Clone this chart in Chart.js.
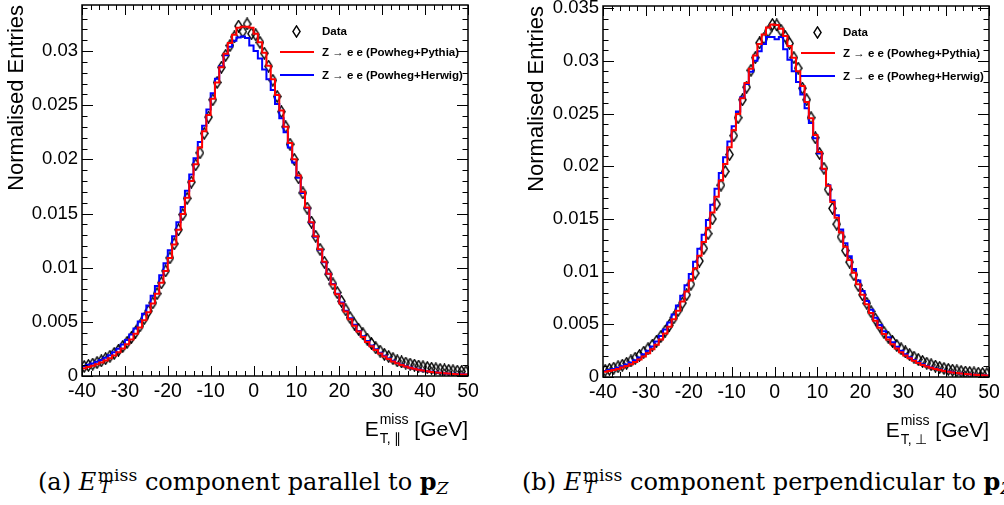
<!doctype html>
<html lang="en">

<head>
    <meta charset="UTF-8" />
    <title>MET components</title>
    <script src="https://cdn.jsdelivr.net/npm/chart.js"></script>
    <style>
        html, body { margin: 0; padding: 0; background: #fff; }
        body { width: 1004px; height: 505px; position: relative; overflow: hidden; }
        canvas { position: absolute; top: -20px; }
        #chartPar { left: 0; }
        #chartPerp { left: 520px; }
        .caption {
            position: absolute; top: 470px; white-space: nowrap;
            font-family: "DejaVu Serif", "Liberation Serif", serif; font-size: 24px; line-height: 1; color: #000;
        }
        .ms { position: relative; display: inline-block; margin-left: 0.06em; }
        .ms .up { position: relative; top: -0.5em; font-size: 0.72em; }
        .ms .dn { position: absolute; left: 0.1em; top: 0.5em; font-size: 0.72em; font-style: italic; }
        .caption sub { font-size: 0.72em; vertical-align: -0.25em; line-height: 0; }
    </style>
</head>

<body>
    <canvas id="chartPar" width="500" height="480"></canvas>
    <canvas id="chartPerp" width="484" height="480"></canvas>

    <div class="caption" style="left:38px">(a) <i>E</i><span class="ms"><span class="up">miss</span><span class="dn">T</span></span> component parallel to <b>p</b><sub><i>Z</i></sub></div>
    <div class="caption" style="left:522px">(b) <i>E</i><span class="ms"><span class="up">miss</span><span class="dn">T</span></span> component perpendicular to <b>p</b><sub><i>Z</i></sub></div>

    <script>
        // lower bin edges (GeV), 1 GeV bins
        const binLow = [-40, -39, -38, -37, -36, -35, -34, -33, -32, -31,
            -30, -29, -28, -27, -26, -25, -24, -23, -22, -21,
            -20, -19, -18, -17, -16, -15, -14, -13, -12, -11,
            -10, -9, -8, -7, -6, -5, -4, -3, -2, -1,
            0, 1, 2, 3, 4, 5, 6, 7, 8, 9,
            10, 11, 12, 13, 14, 15, 16, 17, 18, 19,
            20, 21, 22, 23, 24, 25, 26, 27, 28, 29,
            30, 31, 32, 33, 34, 35, 36, 37, 38, 39,
            40, 41, 42, 43, 44, 45, 46, 47, 48, 49];
        const xMax = 50;
        const xTicks = [-40, -30, -20, -10, 0, 10, 20, 30, 40, 50];

        // (a) parallel component
        const parData = [0.00088, 0.00098, 0.00110, 0.00124, 0.00140, 0.00160, 0.00182, 0.00208, 0.00238, 0.00272,
            0.00310, 0.00355, 0.00405, 0.00462, 0.00530, 0.00600, 0.00675, 0.00760, 0.00860, 0.00970,
            0.01090, 0.01220, 0.01350, 0.01490, 0.01640, 0.01790, 0.01950, 0.02060, 0.02240, 0.02390,
            0.02550, 0.02710, 0.02850, 0.02960, 0.03050, 0.03130, 0.03230, 0.03180, 0.03250, 0.03160,
            0.03150, 0.03080, 0.02980, 0.02860, 0.02730, 0.02580, 0.02440, 0.02300, 0.02140, 0.02000,
            0.01830, 0.01690, 0.01550, 0.01420, 0.01290, 0.01170, 0.01050, 0.00940, 0.00850, 0.00770,
            0.00690, 0.00610, 0.00540, 0.00480, 0.00430, 0.00390, 0.00340, 0.00300, 0.00260, 0.00230,
            0.00200, 0.00180, 0.00160, 0.00140, 0.00130, 0.00120, 0.00110, 0.00100, 0.00092, 0.00085,
            0.00078, 0.00072, 0.00066, 0.00061, 0.00056, 0.00052, 0.00048, 0.00045, 0.00042, 0.00039];
        const parPythia = [0.00072, 0.00082, 0.00094, 0.00108, 0.00124, 0.00143, 0.00165, 0.00190, 0.00220, 0.00254,
            0.00293, 0.00338, 0.00390, 0.00448, 0.00514, 0.00588, 0.00670, 0.00760, 0.00860, 0.00970,
            0.01090, 0.01215, 0.01350, 0.01495, 0.01645, 0.01800, 0.01955, 0.02110, 0.02260, 0.02410,
            0.02560, 0.02710, 0.02850, 0.02975, 0.03075, 0.03150, 0.03215, 0.03225, 0.03225, 0.03215,
            0.03160, 0.03080, 0.02985, 0.02865, 0.02740, 0.02595, 0.02450, 0.02300, 0.02150, 0.02000,
            0.01850, 0.01700, 0.01555, 0.01420, 0.01290, 0.01170, 0.01055, 0.00945, 0.00845, 0.00755,
            0.00670, 0.00595, 0.00525, 0.00465, 0.00410, 0.00360, 0.00315, 0.00275, 0.00240, 0.00208,
            0.00180, 0.00156, 0.00135, 0.00117, 0.00101, 0.00088, 0.00076, 0.00066, 0.00057, 0.00050,
            0.00043, 0.00038, 0.00033, 0.00029, 0.00025, 0.00022, 0.00019, 0.00017, 0.00015, 0.00013];
        const parHerwig = [0.00092, 0.00103, 0.00116, 0.00131, 0.00148, 0.00168, 0.00192, 0.00220, 0.00252, 0.00290,
            0.00333, 0.00382, 0.00438, 0.00502, 0.00574, 0.00650, 0.00740, 0.00830, 0.00930, 0.01040,
            0.01160, 0.01290, 0.01420, 0.01560, 0.01710, 0.01860, 0.02010, 0.02160, 0.02310, 0.02460,
            0.02610, 0.02745, 0.02860, 0.02960, 0.03040, 0.03095, 0.03125, 0.03135, 0.03120, 0.03050,
            0.03000, 0.02930, 0.02830, 0.02740, 0.02640, 0.02510, 0.02380, 0.02250, 0.02110, 0.01970,
            0.01830, 0.01690, 0.01550, 0.01415, 0.01285, 0.01165, 0.01050, 0.00945, 0.00850, 0.00760,
            0.00678, 0.00602, 0.00534, 0.00472, 0.00416, 0.00366, 0.00322, 0.00282, 0.00246, 0.00214,
            0.00186, 0.00162, 0.00140, 0.00121, 0.00105, 0.00091, 0.00079, 0.00068, 0.00059, 0.00051,
            0.00044, 0.00039, 0.00034, 0.00030, 0.00026, 0.00023, 0.00020, 0.00018, 0.00016, 0.00014];

        // (b) perpendicular component
        const perpData = [0.00064, 0.00073, 0.00084, 0.00097, 0.00112, 0.00130, 0.00152, 0.00178, 0.00205, 0.00235,
            0.00268, 0.00302, 0.00340, 0.00385, 0.00436, 0.00492, 0.00560, 0.00630, 0.00702, 0.00780,
            0.00880, 0.00985, 0.01100, 0.01220, 0.01360, 0.01500, 0.01640, 0.01820, 0.01950, 0.02110,
            0.02290, 0.02460, 0.02630, 0.02750, 0.02910, 0.03030, 0.03170, 0.03210, 0.03280, 0.03345,
            0.03340, 0.03290, 0.03230, 0.03165, 0.03030, 0.02930, 0.02740, 0.02630, 0.02460, 0.02270,
            0.02120, 0.01980, 0.01780, 0.01600, 0.01450, 0.01330, 0.01200, 0.01090, 0.00970, 0.00870,
            0.00780, 0.00700, 0.00620, 0.00550, 0.00485, 0.00425, 0.00378, 0.00338, 0.00300, 0.00268,
            0.00238, 0.00212, 0.00188, 0.00167, 0.00148, 0.00131, 0.00116, 0.00103, 0.00091, 0.00081,
            0.00072, 0.00065, 0.00058, 0.00052, 0.00047, 0.00043, 0.00039, 0.00036, 0.00033, 0.00030];
        const perpPythia = [0.00050, 0.00057, 0.00066, 0.00077, 0.00090, 0.00105, 0.00122, 0.00142, 0.00166, 0.00194,
            0.00226, 0.00263, 0.00306, 0.00355, 0.00412, 0.00476, 0.00548, 0.00628, 0.00716, 0.00812,
            0.00916, 0.01030, 0.01150, 0.01280, 0.01415, 0.01560, 0.01710, 0.01865, 0.02020, 0.02180,
            0.02340, 0.02495, 0.02645, 0.02790, 0.02925, 0.03050, 0.03160, 0.03250, 0.03315, 0.03345,
            0.03340, 0.03305, 0.03235, 0.03140, 0.03030, 0.02900, 0.02760, 0.02610, 0.02455, 0.02295,
            0.02135, 0.01975, 0.01815, 0.01660, 0.01510, 0.01370, 0.01235, 0.01110, 0.00990, 0.00880,
            0.00780, 0.00690, 0.00608, 0.00534, 0.00468, 0.00408, 0.00356, 0.00310, 0.00270, 0.00235,
            0.00204, 0.00177, 0.00153, 0.00133, 0.00115, 0.00100, 0.00087, 0.00076, 0.00066, 0.00057,
            0.00050, 0.00043, 0.00038, 0.00033, 0.00029, 0.00025, 0.00022, 0.00019, 0.00017, 0.00015];
        const perpHerwig = [0.00058, 0.00066, 0.00076, 0.00088, 0.00102, 0.00118, 0.00137, 0.00159, 0.00185, 0.00215,
            0.00250, 0.00290, 0.00336, 0.00389, 0.00450, 0.00518, 0.00594, 0.00678, 0.00770, 0.00870,
            0.00978, 0.01094, 0.01218, 0.01350, 0.01490, 0.01635, 0.01785, 0.01935, 0.02085, 0.02235,
            0.02380, 0.02520, 0.02655, 0.02780, 0.02895, 0.03000, 0.03090, 0.03160, 0.03225, 0.03225,
            0.03205, 0.03225, 0.03110, 0.03010, 0.02900, 0.02800, 0.02680, 0.02550, 0.02410, 0.02265,
            0.02120, 0.01970, 0.01820, 0.01675, 0.01535, 0.01400, 0.01270, 0.01145, 0.01025, 0.00915,
            0.00815, 0.00722, 0.00638, 0.00562, 0.00494, 0.00433, 0.00378, 0.00330, 0.00287, 0.00249,
            0.00216, 0.00187, 0.00162, 0.00140, 0.00121, 0.00105, 0.00091, 0.00079, 0.00068, 0.00059,
            0.00051, 0.00044, 0.00038, 0.00033, 0.00029, 0.00025, 0.00022, 0.00019, 0.00017, 0.00015];

        const legendLabels = ["Data", "Z \u2192 e e (Powheg+Pythia)", "Z \u2192 e e (Powheg+Herwig)"];
        const SANS = '"Liberation Sans", Arial, Helvetica, sans-serif';

        // open diamond marker (ROOT style 27)
        function diamondMarker() {
            const c = document.createElement("canvas");
            c.width = 9; c.height = 13;
            const g = c.getContext("2d");
            g.strokeStyle = "#000";
            g.lineWidth = 1.4;
            g.beginPath();
            g.moveTo(4.5, 0.9); g.lineTo(8.1, 6.5); g.lineTo(4.5, 12.1); g.lineTo(0.9, 6.5);
            g.closePath();
            g.stroke();
            return c;
        }
        const marker = diamondMarker();

        function histPoints(vals) {
            const pts = vals.map((v, i) => ({ x: binLow[i], y: v }));
            pts.push({ x: xMax, y: vals[vals.length - 1] });
            return pts;
        }
        function centrePoints(vals) {
            return vals.map((v, i) => ({ x: binLow[i] + 0.5, y: v }));
        }

        // frame with inward ticks on all four sides
        const rootFrame = {
            id: "rootFrame",
            afterDatasetsDraw(chart) {
                const { ctx, chartArea: a, scales: { x, y } } = chart;
                ctx.save();
                ctx.strokeStyle = "#000";
                ctx.lineWidth = 1;
                ctx.beginPath();
                for (let i = 0; x.min + i * 2 <= x.max + 1e-9; i++) {
                    const px = Math.round(x.getPixelForValue(x.min + i * 2)) + 0.5;
                    const len = i % 5 === 0 ? 10 : 5;
                    ctx.moveTo(px, a.bottom); ctx.lineTo(px, a.bottom - len);
                    ctx.moveTo(px, a.top); ctx.lineTo(px, a.top + len);
                }
                for (let i = 0; i * 0.001 <= y.max + 1e-9; i++) {
                    const py = Math.round(y.getPixelForValue(i * 0.001)) + 0.5;
                    const len = i % 5 === 0 ? 11 : 5.5;
                    ctx.moveTo(a.left, py); ctx.lineTo(a.left + len, py);
                    ctx.moveTo(a.right, py); ctx.lineTo(a.right - len, py);
                }
                ctx.stroke();
                ctx.lineWidth = 1.5;
                ctx.strokeRect(a.left, a.top, a.right - a.left, a.bottom - a.top);
                ctx.restore();
            }
        };

        const legendBox = {
            id: "legendBox",
            afterDatasetsDraw(chart) {
                const { ctx, chartArea: a } = chart;
                ctx.save();
                ctx.font = `bold 11.5px ${SANS}`;
                ctx.textBaseline = "middle";
                ctx.fillStyle = "#000";
                ctx.drawImage(marker, Math.round(a.left + 214 - marker.width / 2), Math.round(a.top + 26.5 - marker.height / 2));
                ctx.fillText(legendLabels[0], a.left + 240, a.top + 27);
                const rows = [["#ff0000", 47, legendLabels[1]], ["#0000ff", 70, legendLabels[2]]];
                rows.forEach(([col, dy, txt]) => {
                    ctx.strokeStyle = col;
                    ctx.lineWidth = 2;
                    ctx.beginPath();
                    ctx.moveTo(a.left + 198, a.top + dy);
                    ctx.lineTo(a.left + 232, a.top + dy);
                    ctx.stroke();
                    ctx.fillText(txt, a.left + 240, a.top + dy + 0.5);
                });
                ctx.restore();
            }
        };

        const xTitle = {
            id: "xTitle",
            afterDraw(chart, args, opts) {
                const { ctx, chartArea: a } = chart;
                const big = `21px ${SANS}`, small = `14px ${SANS}`;
                ctx.save();
                ctx.fillStyle = "#000";
                ctx.textBaseline = "alphabetic";
                ctx.font = big;
                const wE = ctx.measureText("E").width;
                const wUnit = ctx.measureText(" [GeV]").width;
                ctx.font = small;
                const wStack = Math.max(ctx.measureText("miss").width, ctx.measureText(opts.sub).width);
                const base = a.bottom + 60;
                const x0 = a.right - wUnit - wStack - wE - 1;
                ctx.font = big;
                ctx.fillText("E", x0, base);
                ctx.fillText(" [GeV]", a.right - wUnit, base);
                ctx.font = small;
                ctx.fillText("miss", x0 + wE + 1, base - 12);
                ctx.fillText(opts.sub, x0 + wE + 1, base + 7);
                ctx.restore();
            }
        };

        function makePanel(id, p) {
            const ctx = document.getElementById(id).getContext("2d");
            return new Chart(ctx, {
                type: "line",
                data: {
                    datasets: [
                        {
                            label: legendLabels[1], data: histPoints(p.pythia), borderColor: "#ff0000",
                            borderWidth: 2, stepped: true, pointRadius: 0, fill: false
                        },
                        {
                            label: legendLabels[2], data: histPoints(p.herwig), borderColor: "#0000ff",
                            borderWidth: 2, stepped: true, pointRadius: 0, fill: false
                        },
                        {
                            label: legendLabels[0], data: centrePoints(p.data), showLine: false,
                            pointStyle: marker, pointRadius: 4
                        }
                    ]
                },
                options: {
                    responsive: false,
                    animation: false,
                    events: [],
                    layout: { padding: { top: p.padTop, right: p.padRight, left: 0, bottom: 0 } },
                    plugins: {
                        legend: { display: false },
                        tooltip: { enabled: false },
                        xTitle: { sub: p.sub }
                    },
                    scales: {
                        x: {
                            type: "linear", min: -40, max: xMax,
                            afterFit(s) { s.height = p.xHeight; },
                            afterBuildTicks(s) { s.ticks = xTicks.map(v => ({ value: v })); },
                            grid: { display: false, drawTicks: false },
                            border: { display: false },
                            ticks: {
                                color: "#000", padding: 4, maxRotation: 0, autoSkip: false,
                                font: { family: SANS, size: 19.5 }, callback: v => String(v)
                            }
                        },
                        y: {
                            min: 0, max: p.yMax,
                            afterFit(s) { s.width = p.yWidth; },
                            grid: { display: false, drawTicks: false },
                            border: { display: false },
                            ticks: {
                                stepSize: 0.005, includeBounds: false, color: "#000", padding: 4,
                                font: { family: SANS, size: 18.5 }, callback: v => String(+v.toFixed(4))
                            },
                            title: {
                                display: true, text: "Normalised Entries", align: "end", color: "#000",
                                font: { family: SANS, size: 22 }, padding: { top: 4, bottom: 0 }
                            }
                        }
                    }
                },
                plugins: [rootFrame, legendBox, xTitle]
            });
        }

        makePanel("chartPar", {
            data: parData, pythia: parPythia, herwig: parHerwig, sub: "T, \u2225",
            yMax: 0.03425, padTop: 25, padRight: 32, yWidth: 82, xHeight: 84
        });
        makePanel("chartPerp", {
            data: perpData, pythia: perpPythia, herwig: perpHerwig, sub: "T, \u22A5",
            yMax: 0.0352, padTop: 26, padRight: 15, yWidth: 83, xHeight: 83
        });
    </script>
</body>

</html>
